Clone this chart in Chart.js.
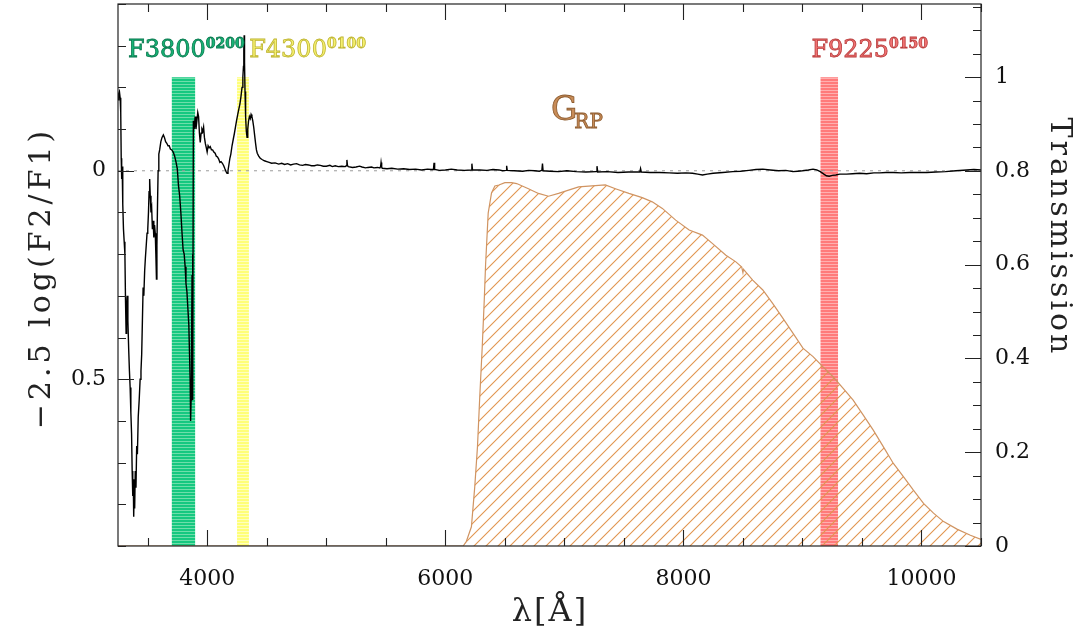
<!DOCTYPE html>
<html>
<head>
<meta charset="utf-8">
<script src="https://cdn.jsdelivr.net/npm/chart.js@4.4.1/dist/chart.umd.min.js"></script>
<style>
  html, body { margin: 0; padding: 0; background: #fff; }
  #wrap { width: 1078px; height: 637px; }
</style>
</head>
<body>
<div id="wrap"><canvas id="mycanvas"></canvas></div>
<script>
// wavelength grid of the ratio spectrum (Angstrom)
var specLambda = [
  3250, 3256, 3262, 3268, 3273, 3277, 3281, 3285, 3290, 3296, 3302, 3308, 3313, 3318, 3322, 3327,
  3333, 3340, 3346, 3352, 3358, 3364, 3369, 3374, 3378, 3382, 3386, 3390, 3395, 3401, 3407, 3413,
  3420, 3428, 3436, 3443, 3449, 3455, 3461, 3467, 3474, 3480, 3487, 3494, 3500, 3506, 3511, 3516,
  3521, 3527, 3533, 3539, 3545, 3551, 3557, 3563, 3568, 3573, 3577, 3582, 3587, 3593, 3600, 3610,
  3620, 3631, 3640, 3650, 3660, 3670, 3680, 3690, 3702, 3714, 3726, 3738, 3748, 3758, 3768, 3778,
  3788, 3797, 3806, 3814, 3821, 3829, 3837, 3845, 3851, 3856, 3860, 3864, 3868, 3872, 3875, 3878,
  3880, 3883, 3890, 3898, 3905, 3913, 3920, 3927, 3934, 3941, 3948, 3955, 3962, 3969, 3976, 3984,
  3992, 3999, 4007, 4016, 4025, 4035, 4045, 4055, 4066, 4076, 4086, 4096, 4106, 4116, 4127, 4138,
  4149, 4158, 4166, 4174, 4182, 4190, 4198, 4208, 4218, 4228, 4237, 4246, 4256, 4265, 4274, 4283,
  4292, 4299, 4304, 4307, 4310, 4313, 4317, 4322, 4328, 4334, 4340, 4347, 4354, 4361, 4368, 4375,
  4382, 4390, 4398, 4406, 4413, 4420, 4432, 4445, 4460, 4480, 4500, 4520, 4540, 4570, 4600, 4625,
  4650, 4675, 4700, 4725, 4750, 4775, 4800, 4825, 4850, 4875, 4900, 4925, 4950, 4975, 5000, 5030,
  5050, 5075, 5100, 5130, 5160, 5168, 5173, 5178, 5185, 5220, 5250, 5280, 5300, 5330, 5350, 5380,
  5400, 5430, 5450, 5456, 5460, 5465, 5470, 5510, 5550, 5600, 5650, 5700, 5750, 5800, 5850, 5880,
  5900, 5905, 5910, 5950, 6000, 6050, 6100, 6160, 6218, 6223, 6228, 6290, 6350, 6400, 6450, 6480,
  6510, 6515, 6520, 6580, 6650, 6700, 6750, 6790, 6811, 6816, 6821, 6880, 6950, 7020, 7100, 7180,
  7268, 7274, 7280, 7360, 7450, 7540, 7634, 7640, 7646, 7720, 7800, 7880, 7950, 8020, 8076, 8120,
  8160, 8200, 8250, 8330, 8414, 8480, 8550, 8610, 8667, 8730, 8800, 8860, 8920, 8960, 9000, 9050,
  9089, 9120, 9150, 9180, 9201, 9225, 9250, 9280, 9314, 9370, 9420, 9480, 9539, 9600, 9650, 9700,
  9764, 9830, 9900, 9970, 10045, 10120, 10200, 10290, 10382, 10440, 10500
];
// -2.5 log(F2/F1)
var specValue = [
  -0.17, -0.185, -0.19, -0.175, -0.14, -0.03, 0.02, -0.01, 0.08, 0.14, 0.17, 0.20, 0.31, 0.39, 0.33, 0.30,
  0.36, 0.43, 0.48, 0.52, 0.58, 0.63, 0.72, 0.78, 0.74, 0.83, 0.76, 0.81, 0.72, 0.76, 0.66, 0.68,
  0.59, 0.55, 0.50, 0.48, 0.44, 0.36, 0.28, 0.30, 0.24, 0.21, 0.18, 0.15, 0.14, 0.10, 0.05, 0.02,
  0.06, 0.10, 0.09, 0.14, 0.12, 0.16, 0.13, 0.15, 0.20, 0.26, 0.18, 0.08, 0.00, -0.04, -0.05, -0.07,
  -0.08, -0.086, -0.08, -0.07, -0.066, -0.06, -0.06, -0.052, -0.05, -0.045, -0.035, -0.02, -0.005, 0.035, 0.06, 0.10,
  0.15, 0.19, 0.20, 0.23, 0.27, 0.29, 0.33, 0.37, 0.44, 0.50, 0.60, 0.55, 0.42, 0.25, 0.20, 0.40,
  0.55, -0.12, -0.10, -0.13, -0.10, -0.12, -0.14, -0.13, -0.09, -0.068, -0.09, -0.10, -0.095, -0.105, -0.08, -0.065,
  -0.055, -0.045, -0.06, -0.055, -0.058, -0.05, -0.05, -0.045, -0.042, -0.035, -0.033, -0.028, -0.02, -0.022, -0.018, -0.012,
  -0.004, 0.002, 0.006, 0.0, -0.015, -0.03, -0.04, -0.06, -0.075, -0.09, -0.105, -0.12, -0.135, -0.148, -0.16, -0.178,
  -0.20, -0.225, -0.25, -0.29, -0.325, -0.26, -0.19, -0.13, -0.095, -0.08, -0.10, -0.12, -0.13, -0.125, -0.135, -0.13,
  -0.12, -0.105, -0.085, -0.065, -0.05, -0.042, -0.035, -0.03, -0.027, -0.024, -0.022, -0.02, -0.018, -0.019, -0.016, -0.018,
  -0.015, -0.017, -0.014, -0.016, -0.017, -0.014, -0.013, -0.015, -0.014, -0.012, -0.012, -0.014, -0.013, -0.011, -0.011, -0.013,
  -0.010, -0.012, -0.010, -0.011, -0.010, -0.012, -0.026, -0.012, -0.010, -0.008, -0.009, -0.011, -0.009, -0.007, -0.008, -0.009,
  -0.007, -0.008, -0.007, -0.010, -0.020, -0.009, -0.006, -0.005, -0.006, -0.004, -0.005, -0.003, -0.004, -0.002, -0.004, -0.003,
  -0.003, -0.019, -0.003, -0.001, -0.002, -0.004, -0.002, -0.001, -0.002, -0.017, -0.002, -0.002, -0.001, -0.003, -0.002, 0.0,
  -0.001, -0.012, -0.001, 0.0, 0.001, -0.001, 0.0, 0.001, -0.001, -0.017, 0.0, 0.001, 0.002, 0.0, 0.002, 0.003,
  0.002, -0.011, 0.003, 0.002, 0.004, 0.003, 0.003, -0.005, 0.003, 0.004, 0.004, 0.005, 0.006, 0.005, 0.006, 0.008,
  0.010, 0.008, 0.006, 0.004, 0.002, 0.001, -0.001, -0.003, -0.004, -0.002, 0.0, -0.001, 0.002, 0.001, 0.0, -0.002,
  -0.004, -0.002, 0.002, 0.008, 0.012, 0.013, 0.011, 0.010, 0.008, 0.008, 0.007, 0.006, 0.007, 0.005, 0.005, 0.004,
  0.004, 0.005, 0.004, 0.004, 0.004, 0.003, 0.002, 0.0, -0.002, -0.003, -0.002
];

// G_RP passband transmission
var grpLambda = [
  3250, 6150, 6177, 6219, 6247, 6270, 6289, 6310, 6327, 6338, 6360, 6388, 6416, 6450, 6500, 6557,
  6599, 6698, 6782, 6867, 6951, 7035, 7120, 7232, 7344, 7429, 7542, 7654, 7738, 7823, 7935, 8048,
  8160, 8245, 8357, 8441, 8490, 8500, 8505, 8582, 8667, 8751, 8835, 8920, 9004, 9089, 9173, 9257,
  9342, 9426, 9511, 9595, 9679, 9764, 9848, 9932, 10017, 10101, 10186, 10298, 10411, 10500
];
var grpTrans = [
  0, 0, 0.01, 0.041, 0.126, 0.212, 0.318, 0.425, 0.525, 0.60, 0.71, 0.753, 0.768, 0.77, 0.775, 0.775,
  0.773, 0.762, 0.752, 0.746, 0.752, 0.759, 0.766, 0.768, 0.77, 0.762, 0.752, 0.743, 0.734, 0.72, 0.695, 0.674,
  0.663, 0.645, 0.62, 0.606, 0.595, 0.583, 0.59, 0.567, 0.546, 0.517, 0.486, 0.454, 0.422, 0.404, 0.382, 0.361,
  0.336, 0.311, 0.279, 0.247, 0.212, 0.176, 0.148, 0.119, 0.091, 0.07, 0.052, 0.036, 0.023, 0.014
];

// narrow-band filters
var filterNames = ['F3800', 'F4300', 'F9225'];
var filterWidthText = ['0200', '0100', '0150'];
var filterCenters = [3800, 4300, 9225];
var filterWidths = [200, 100, 150];

var xTickLabels = ['4000', '6000', '8000', '10000'];
var yTickLabels = ['0', '0.5'];
var y2TickLabels = ['0', '0.2', '0.4', '0.6', '0.8', '1'];

var ctx = document.getElementById('mycanvas').getContext('2d');

function stripes(base, line) {
  var c = document.createElement('canvas');
  c.width = 4; c.height = 3;
  var g = c.getContext('2d');
  g.fillStyle = base; g.fillRect(0, 0, 4, 3);
  g.fillStyle = line; g.fillRect(0, 0, 4, 1);
  return ctx.createPattern(c, 'repeat');
}

function hatch() {
  var c = document.createElement('canvas');
  c.width = 12; c.height = 12;
  var g = c.getContext('2d');
  g.strokeStyle = 'rgb(225,150,80)';
  g.lineWidth = 1.1;
  g.beginPath();
  g.moveTo(0, 12); g.lineTo(12, 0);
  g.moveTo(-6, 6); g.lineTo(6, -6);
  g.moveTo(6, 18); g.lineTo(18, 6);
  g.stroke();
  return ctx.createPattern(c, 'repeat');
}

var filterFills = [
  stripes('rgb(22,200,128)', 'rgb(110,222,170)'),
  stripes('rgb(255,255,120)', 'rgb(255,255,190)'),
  stripes('rgb(255,122,122)', 'rgb(255,175,175)')
];
var labelFill = ['rgb(24,180,118)', 'rgb(245,240,110)', 'rgb(240,115,115)'];
var labelStroke = ['rgb(8,120,78)', 'rgb(190,180,50)', 'rgb(185,60,60)'];
var labelAt = [3335, 4352, 9075];

var spectrum = [];
for (var i in specLambda) spectrum.push({x: specLambda[i], y: specValue[i]});
var grp = [];
for (var j in grpLambda) grp.push({x: grpLambda[j], y: grpTrans[j]});

var datasets = [
  {
    label: 'ratio', data: spectrum, yAxisID: 'y',
    borderColor: '#000', borderWidth: 1.4, pointRadius: 0, fill: false, order: 0
  },
  {
    label: 'zero', data: [{x: 3250, y: 0}, {x: 10500, y: 0}], yAxisID: 'y',
    borderColor: '#9a9a9a', borderWidth: 1, borderDash: [3, 5], pointRadius: 0, fill: false, order: 1
  },
  {
    label: 'GRP', data: grp, yAxisID: 'y2',
    borderColor: 'rgb(208,148,98)', borderWidth: 1.2, pointRadius: 0,
    backgroundColor: hatch(), fill: 'origin', order: 2
  }
];
for (var k = 0; k < filterCenters.length; k++) {
  var lo = filterCenters[k] - filterWidths[k] / 2, hi = filterCenters[k] + filterWidths[k] / 2;
  datasets.push({
    label: filterNames[k],
    data: [{x: lo, y: 0}, {x: lo, y: 1}, {x: hi, y: 1}, {x: hi, y: 0}],
    yAxisID: 'y2', borderWidth: 0, borderColor: 'rgba(0,0,0,0)', pointRadius: 0,
    backgroundColor: filterFills[k], fill: 'origin', order: 3
  });
}

function near(v, s) { return Math.abs(v - parseFloat(s)) < 1e-6; }

// fixed axis boxes so the plot frame lands where the original has it
function fixBox(size, horizontal) {
  return function(s) {
    if (horizontal) s.height = size; else s.width = size;
    s.paddingTop = 0; s.paddingBottom = 0; s.paddingLeft = 0; s.paddingRight = 0;
  };
}

var serif = 'DejaVu Serif';

var decorations = {
  id: 'decorations',
  afterDraw: function(chart) {
    var c = chart.ctx, a = chart.chartArea;
    var sx = chart.scales.x, sy = chart.scales.y, sy2 = chart.scales.y2;
    c.save();
    c.strokeStyle = '#222';
    c.lineWidth = 1.2;
    c.strokeRect(a.left, a.top, a.right - a.left, a.bottom - a.top);

    c.lineWidth = 1.1;
    c.beginPath();
    // x ticks, bottom and top, pointing inward
    for (var v = 3500; v <= 10500; v += 500) {
      var px = Math.round(sx.getPixelForValue(v)) + 0.5;
      var len = (v % 2000 === 0) ? 16 : 8;
      c.moveTo(px, a.bottom); c.lineTo(px, a.bottom - len);
      c.moveTo(px, a.top); c.lineTo(px, a.top + len);
    }
    // left ticks
    for (var t = -4; t <= 9; t++) {
      var py = Math.round(sy.getPixelForValue(t / 10)) + 0.5;
      var l2 = (t % 5 === 0) ? 16 : 8;
      c.moveTo(a.left, py); c.lineTo(a.left + l2, py);
    }
    // right ticks
    for (var r = 0; r <= 23; r++) {
      var py2 = Math.round(sy2.getPixelForValue(r * 0.05)) + 0.5;
      var l3 = (r % 4 === 0) ? 16 : 8;
      c.moveTo(a.right, py2); c.lineTo(a.right - l3, py2);
    }
    c.stroke();

    // filter labels
    c.textBaseline = 'alphabetic';
    c.textAlign = 'left';
    for (var k = 0; k < filterNames.length; k++) {
      var x0 = sx.getPixelForValue(labelAt[k]);
      c.font = '24px "' + serif + '"';
      c.fillStyle = labelFill[k];
      c.strokeStyle = labelStroke[k];
      c.lineWidth = 0.8;
      c.fillText(filterNames[k], x0, 57);
      c.strokeText(filterNames[k], x0, 57);
      var w = c.measureText(filterNames[k]).width;
      c.font = 'bold 14px "' + serif + '"';
      c.fillText(filterWidthText[k], x0 + w, 48);
      c.strokeText(filterWidthText[k], x0 + w, 48);
    }

    // G_RP label
    c.fillStyle = 'rgb(200,140,88)';
    c.strokeStyle = 'rgb(140,90,45)';
    c.lineWidth = 0.8;
    c.font = '33px "' + serif + '"';
    c.fillText('G', 551, 120);
    c.strokeText('G', 551, 120);
    var gw = c.measureText('G').width;
    c.font = '20px "' + serif + '"';
    c.fillText('RP', 551 + gw - 3, 128);
    c.strokeText('RP', 551 + gw - 3, 128);

    // axis titles
    c.fillStyle = '#222';
    c.textAlign = 'center';
    c.textBaseline = 'middle';
    c.font = '30px "' + serif + '"';
    c.letterSpacing = '4px';
    c.save();
    c.translate(42, 278);
    c.rotate(-Math.PI / 2);
    c.fillText('\u22122.5 log(F2/F1)', 0, 0);
    c.restore();
    c.letterSpacing = '3px';
    c.save();
    c.translate(1059, 237);
    c.rotate(Math.PI / 2);
    c.fillText('Transmission', 0, 0);
    c.restore();
    c.letterSpacing = '2px';
    c.font = '32px "' + serif + '"';
    c.fillText('\u03bb[\u00c5]', 550, 613);
    c.letterSpacing = '0px';
    c.restore();
  }
};

var tickFont = {family: serif, size: 22};

var LineGraph = new Chart(ctx, {
  type: 'line',
  data: {datasets: datasets},
  plugins: [decorations],
  options: {
    responsive: true,
    maintainAspectRatio: false,
    animation: false,
    devicePixelRatio: 1,
    layout: {padding: {top: 4, left: 0, right: 0, bottom: 0}},
    plugins: {legend: {display: false}, tooltip: {enabled: false}},
    elements: {line: {tension: 0}},
    scales: {
      x: {
        type: 'linear', min: 3250, max: 10500,
        grid: {display: false, drawTicks: false}, border: {display: false},
        afterFit: fixBox(91, true),
        afterBuildTicks: function(s) {
          s.ticks = xTickLabels.map(function(t) { return {value: parseFloat(t)}; });
        },
        ticks: {
          autoSkip: false, maxRotation: 0, minRotation: 0, padding: 20, color: '#111', font: tickFont,
          callback: function(v) {
            for (var i in xTickLabels) if (near(v, xTickLabels[i])) return xTickLabels[i];
            return '';
          }
        }
      },
      y: {
        type: 'linear', position: 'left', reverse: true, min: -0.4, max: 0.9,
        grid: {display: false, drawTicks: false}, border: {display: false},
        afterFit: fixBox(118, false),
        ticks: {
          stepSize: 0.1, maxTicksLimit: 100, autoSkip: false, padding: 12, color: '#111', font: tickFont,
          callback: function(v) {
            for (var i in yTickLabels) if (near(v, yTickLabels[i])) return yTickLabels[i];
            return '';
          }
        }
      },
      y2: {
        type: 'linear', position: 'right', min: 0, max: 1.156,
        grid: {display: false, drawTicks: false}, border: {display: false},
        afterFit: fixBox(97, false),
        ticks: {
          stepSize: 0.05, maxTicksLimit: 100, autoSkip: false, padding: 14, color: '#111', font: tickFont,
          callback: function(v) {
            for (var i in y2TickLabels) if (near(v, y2TickLabels[i])) return y2TickLabels[i];
            return '';
          }
        }
      }
    }
  }
});
</script>
</body>
</html>
